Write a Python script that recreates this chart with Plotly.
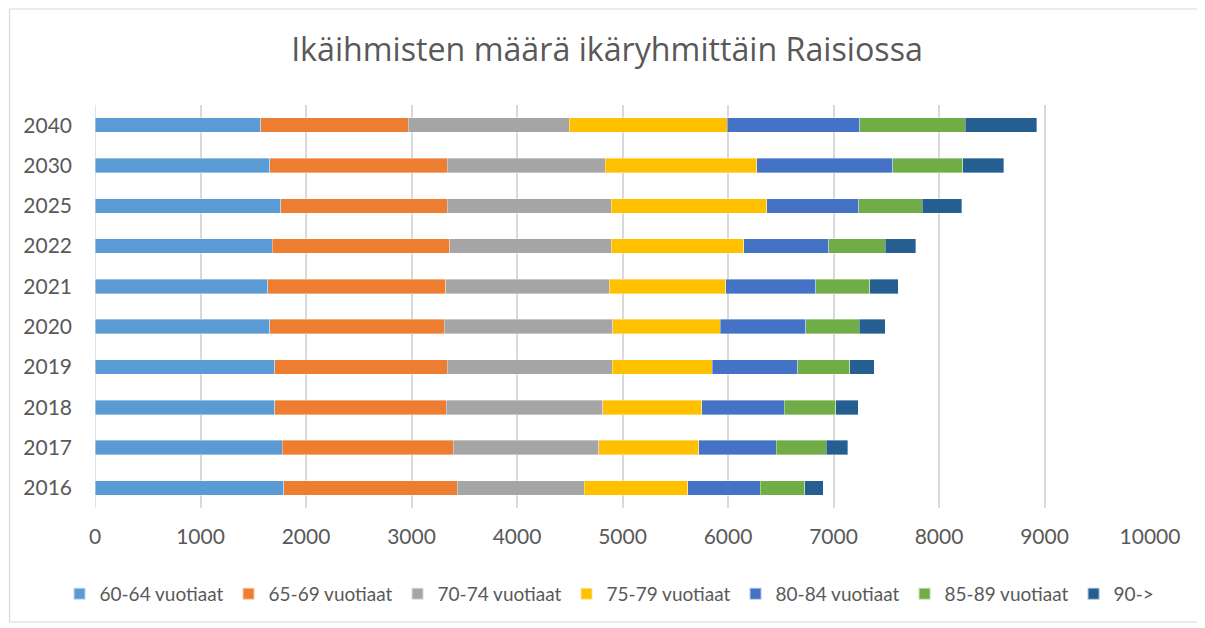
import plotly.graph_objects as go

years = ["2016", "2017", "2018", "2019", "2020", "2021", "2022", "2025", "2030", "2040"]

age_60_64 = [1787, 1774, 1703, 1703, 1655, 1638, 1682, 1760, 1655, 1571]
age_65_69 = [1647, 1623, 1627, 1636, 1654, 1685, 1681, 1579, 1684, 1400]
age_70_74 = [1204, 1379, 1484, 1563, 1600, 1552, 1532, 1556, 1499, 1522]
age_75_79 = [979, 948, 936, 948, 1017, 1105, 1255, 1471, 1433, 1500]
age_80_84 = [688, 733, 782, 812, 812, 850, 806, 873, 1290, 1256]
age_85_89 = [423, 476, 487, 492, 508, 514, 533, 604, 666, 1001]
age_90_plus = [173, 200, 214, 234, 246, 268, 290, 372, 389, 675]

series_names = ["60-64 vuotiaat", "65-69 vuotiaat", "70-74 vuotiaat", "75-79 vuotiaat",
                "80-84 vuotiaat", "85-89 vuotiaat", "90->"]
series_values = [age_60_64, age_65_69, age_70_74, age_75_79, age_80_84, age_85_89, age_90_plus]
colors = ["#5B9BD5", "#ED7D31", "#A5A5A5", "#FFC000", "#4472C4", "#70AD47", "#255E91"]

x_ticks = [0, 1000, 2000, 3000, 4000, 5000, 6000, 7000, 8000, 9000, 10000]
x_tick_labels = [str(v) for v in x_ticks]

FONT = "Lato"
FONT2 = "Open Sans"
TXT = "#595959"

fig = go.Figure()
for name, vals, col in zip(series_names, series_values, colors):
    fig.add_trace(go.Bar(
        y=years, x=vals, name=name, orientation="h",
        marker=dict(color=col, line=dict(color="rgba(255,255,255,0.6)", width=0.6)),
    ))

# the page body adds an 8px offset; design in screen pixels and shift
OFF = 8
W, H = 1205 - OFF, 628 - OFF
L, R, T, B = 94.5 - OFF, 1150 - OFF, 105 - OFF, 508 - OFF

def sx(px):
    return (px - OFF - L) / (R - L)

def sy(py):
    return (B - (py - OFF)) / (B - T)

fig.update_layout(
    width=W, height=H,
    barmode="stack",
    bargap=0.64,
    paper_bgcolor="white",
    plot_bgcolor="white",
    margin=dict(l=L, r=W - R, t=T, b=H - B, pad=0, autoexpand=False),
    font=dict(family=FONT, color=TXT, size=21),
    title=dict(text="Ikäihmisten määrä ikäryhmittäin Raisiossa",
               x=(607 - OFF) / W, xanchor="center", xref="container",
               y=1 - (50 - OFF) / H, yanchor="middle", yref="container",
               font=dict(family=FONT2, size=32.2, color=TXT)),
    showlegend=True,
    legend=dict(orientation="h", x=sx(59), xanchor="left",
                y=sy(594), yanchor="middle",
                font=dict(family=FONT, size=19, color=TXT),
                traceorder="normal", itemwidth=30, itemsizing="constant",
                bgcolor="rgba(0,0,0,0)"),
    xaxis=dict(range=[0, 10000], tickvals=x_ticks, ticktext=x_tick_labels,
               showgrid=True, gridcolor="#D9D9D9", gridwidth=1.5,
               zeroline=False, showline=False, automargin=False,
               ticks="", ticklabelstandoff=14,
               tickfont=dict(family=FONT, size=21, color=TXT),
               fixedrange=True),
    yaxis=dict(categoryorder="array", categoryarray=years, type="category",
               showgrid=False, zeroline=False, showline=False, automargin=False,
               ticks="", ticklabelstandoff=22,
               tickfont=dict(family=FONT, size=21, color=TXT)),
    shapes=[
        dict(type="line", xref="x", yref="paper", x0=0, x1=0, y0=0, y1=1,
             line=dict(color="#D9D9D9", width=1.5), layer="below"),
        dict(type="rect", xref="paper", yref="paper",
             x0=sx(9), x1=sx(1199), y0=sy(622), y1=sy(9),
             line=dict(color="#D9D9D9", width=1.2), fillcolor="rgba(0,0,0,0)", layer="below"),
    ],
)

fig.write_html("out.html")
